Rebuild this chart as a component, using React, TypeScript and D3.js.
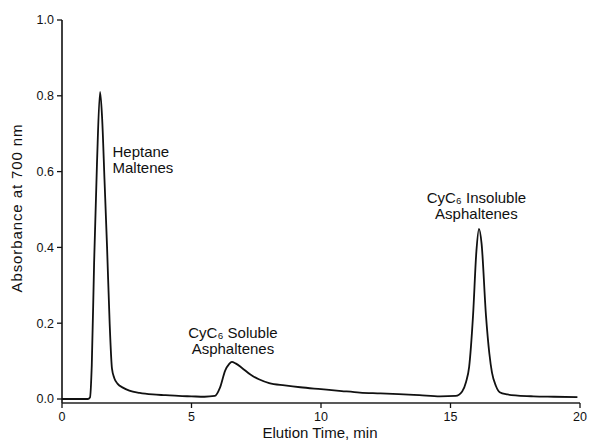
import * as d3 from "d3";

// elution time (min) and absorbance
const time = [
  0, 1.0, 1.08, 1.15, 1.24, 1.35, 1.47, 1.55, 1.64, 1.74, 1.84, 1.93, 2.02, 2.15, 2.35, 2.6, 3.0, 3.5, 4.0,
  4.5, 5.0, 5.5, 5.9, 6.1, 6.3, 6.45, 6.56, 6.7, 6.95, 7.26, 7.6, 8.0, 8.6, 9.2, 10.0, 10.8, 11.5, 12.3,
  13.0, 13.8, 14.6, 15.2, 15.45, 15.6, 15.72, 15.87, 16.0, 16.1, 16.2, 16.37, 16.5, 16.6, 16.75, 16.9,
  17.2, 17.6, 18.2, 19.0, 19.9,
];
const absorbance = [
  0, 0, 0.004, 0.09, 0.36, 0.62, 0.81, 0.74, 0.58, 0.4, 0.2, 0.08, 0.055, 0.04, 0.03, 0.022, 0.016, 0.012,
  0.01, 0.008, 0.007, 0.006, 0.008, 0.03, 0.075, 0.092, 0.098, 0.094, 0.082, 0.065, 0.052, 0.042, 0.036,
  0.031, 0.026, 0.021, 0.017, 0.015, 0.013, 0.01, 0.007, 0.008, 0.02, 0.045, 0.085, 0.22, 0.39, 0.449,
  0.41, 0.22, 0.12, 0.07, 0.035, 0.018, 0.012, 0.009, 0.007, 0.006, 0.005,
];

const xTicks = [0, 5, 10, 15, 20];
const yTicks = [0, 0.2, 0.4, 0.6, 0.8, 1.0];

// peak labels, anchored in data units
const peakLabels = [
  { t: 1.95, a: 0.638, line1: "Heptane", line2: "Maltenes", anchor: "start" },
  { t: 6.6, a: 0.161, line1: "CyC₆ Soluble", line2: "Asphaltenes", anchor: "middle" },
  { t: 16.0, a: 0.517, line1: "CyC₆ Insoluble", line2: "Asphaltenes", anchor: "middle" },
];

const W = 589;
const H = 445;
const FONT = "'Liberation Sans', Arial, Helvetica, sans-serif";

const App = () => {
  const x = d3.scaleLinear().domain([0, 20]).range([62, 580]);
  const y = d3.scaleLinear().domain([0, 1]).range([399, 20]);
  const axisY = 403;

  const line = d3
    .line<number>()
    .x((d, i) => x(time[i]))
    .y((d) => y(d))
    .curve(d3.curveMonotoneX);

  return (
    <svg
      width={W}
      height={H}
      style={{ position: "absolute", left: 0, top: 0, background: "#fff" }}
      fontFamily={FONT}
    >
      {/* y axis */}
      <line x1={x(0)} x2={x(0)} y1={y(1)} y2={axisY} stroke="#111" strokeWidth={1.6} />
      {yTicks.map((v) => (
        <g key={v} transform={`translate(${x(0)},${y(v)})`}>
          <line x1={-5} x2={0} stroke="#111" strokeWidth={1.3} />
          <text x={-8} dy="0.35em" textAnchor="end" fontSize={12.5} fill="#111">
            {d3.format(".1f")(v)}
          </text>
        </g>
      ))}

      {/* x axis */}
      <line x1={x(0)} x2={x(20)} y1={axisY} y2={axisY} stroke="#222" strokeWidth={1.3} />
      {xTicks.map((v) => (
        <g key={v} transform={`translate(${x(v)},${axisY})`}>
          <line y1={0} y2={5} stroke="#111" strokeWidth={1.3} />
          <text y={18} textAnchor="middle" fontSize={12.5} fill="#111">
            {v}
          </text>
        </g>
      ))}

      <text x={320} y={438} textAnchor="middle" fontSize={15} fill="#111">
        Elution Time, min
      </text>
      <text
        transform={`translate(22,${208}) rotate(-90)`}
        textAnchor="middle"
        fontSize={15}
        letterSpacing={0.9}
        fill="#111"
      >
        Absorbance at 700 nm
      </text>

      {/* trace */}
      <path d={line(absorbance) as string} fill="none" stroke="#111" strokeWidth={1.8} strokeLinejoin="round" />

      {/* peak labels */}
      {peakLabels.map((p, i) => (
        <g key={i} fontSize={15} fill="#111" textAnchor={p.anchor}>
          <text x={x(p.t)} y={y(p.a)}>
            {p.line1}
          </text>
          <text x={x(p.t)} y={y(p.a) + 16}>
            {p.line2}
          </text>
        </g>
      ))}
    </svg>
  );
};

export default App;
